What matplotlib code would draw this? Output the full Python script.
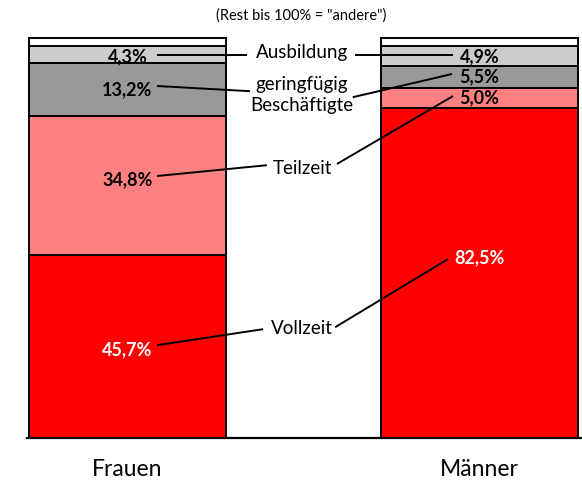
import numpy as np
import matplotlib.pyplot as plt
from matplotlib import rcParams

rcParams['font.family'] = ['Lato', 'DejaVu Sans']

groups = ['Frauen', 'Männer']
segments = ['Vollzeit', 'Teilzeit', 'geringfügig\nBeschäftigte', 'Ausbildung', 'andere']
values = {
    'Vollzeit': [45.7, 82.5],
    'Teilzeit': [34.8, 5.0],
    'geringfügig\nBeschäftigte': [13.2, 5.5],
    'Ausbildung': [4.3, 4.9],
    'andere': [2.0, 2.1],
}
labels = {
    'Vollzeit': ['45,7%', '82,5%'],
    'Teilzeit': ['34,8%', '5,0%'],
    'geringfügig\nBeschäftigte': ['13,2%', '5,5%'],
    'Ausbildung': ['4,3%', '4,9%'],
}
colors = {
    'Vollzeit': '#ff0000',
    'Teilzeit': '#ff8080',
    'geringfügig\nBeschäftigte': '#999999',
    'Ausbildung': '#cccccc',
    'andere': '#ffffff',
}

fig = plt.figure(figsize=(5.82, 4.82), dpi=100)
ax = fig.add_axes([27/582, 44/482, 555/582, 438/482])
x = np.arange(len(groups))
width = 0.557

bottom = np.zeros(len(groups))
for seg in segments:
    v = np.array(values[seg])
    ax.bar(x, v, width, bottom=bottom, color=colors[seg], edgecolor='black', linewidth=1.4, zorder=2)
    bottom += v

# percentage labels (y in % units)
pct_y = {
    'Vollzeit': [22.0, 45.0],
    'Teilzeit': [64.5, 85.0],
    'geringfügig\nBeschäftigte': [87.0, 90.2],
    'Ausbildung': [95.3, 95.3],
}
for seg, lab in labels.items():
    for i, t in enumerate(lab):
        col = 'white' if seg == 'Vollzeit' else 'black'
        ax.text(x[i], pct_y[seg][i], t, ha='center', va='center', fontsize=13,
                fontweight='bold', color=col, zorder=4)

# category labels in the gap
cat_y = {'Ausbildung': 96.3, 'geringfügig\nBeschäftigte': 85.8, 'Teilzeit': 67.5, 'Vollzeit': 27.5}
for seg, yy in cat_y.items():
    ax.text(0.496, yy, seg, ha='center', va='center', fontsize=13.5, linespacing=1.3, zorder=4)

# connector lines (x in bar units, y in % units)
connectors = [
    ((0.084, 95.7), (0.339, 95.7)), ((0.646, 95.7), (0.925, 95.7)),
    ((0.084, 88.0), (0.348, 86.7)), ((0.640, 85.2), (0.922, 91.0)),
    ((0.084, 65.5), (0.396, 68.2)), ((0.595, 68.5), (0.925, 85.5)),
    ((0.084, 23.2), (0.385, 27.2)), ((0.590, 27.7), (0.910, 44.7)),
]
for (x0, y0), (x1, y1) in connectors:
    ax.plot([x0, x1], [y0, y1], color='black', linewidth=1.4, zorder=5, solid_capstyle='butt')

ax.set_xlim(-0.2855, 1.2912)
ax.set_ylim(0, 109.5)
ax.set_xticks(x)
ax.set_xticklabels(groups, fontsize=16.5)
ax.tick_params(axis='x', length=0, pad=15)
ax.set_yticks([])
for s in ['top', 'right', 'left']:
    ax.spines[s].set_visible(False)
ax.spines['bottom'].set_linewidth(1.6)

fig.text(301/582, 1 - 16/482, '(Rest bis 100% = "andere")', ha='center', va='center', fontsize=10.5)

plt.savefig('out.png', dpi=100)
